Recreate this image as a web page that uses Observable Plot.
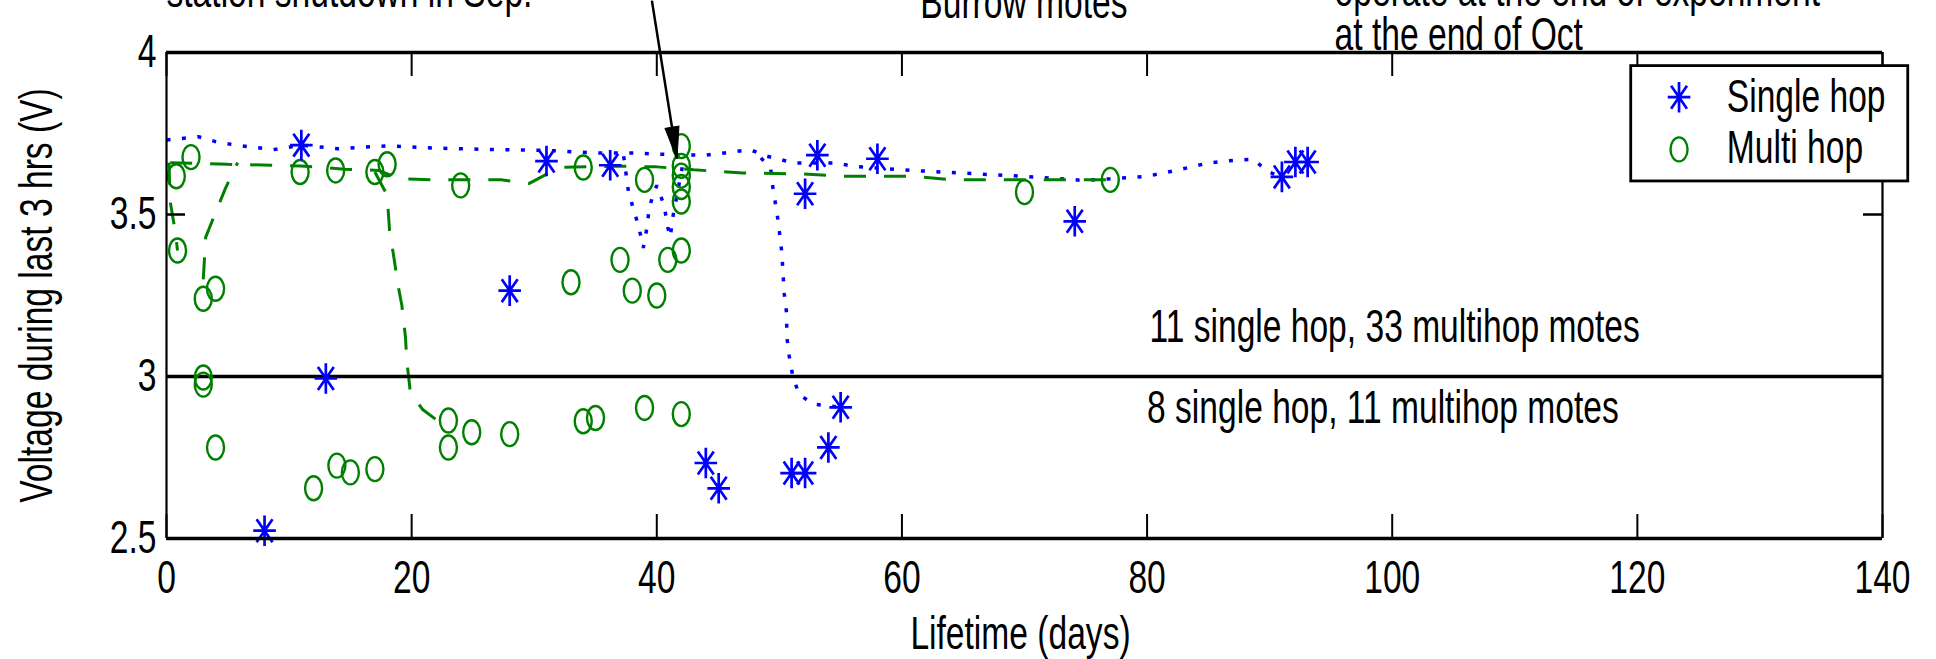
<!DOCTYPE html>
<html><head><meta charset="utf-8">
<script src="https://cdn.jsdelivr.net/npm/d3@7"></script>
<script src="https://cdn.jsdelivr.net/npm/@observablehq/plot@0.6"></script>
<style>html,body{margin:0;padding:0;background:#fff;overflow:hidden;} #chart{width:1936px;height:659px;}</style>
</head><body><div id="chart"></div>
<script>
// ---------- data ----------
const xTicks = [0, 20, 40, 60, 80, 100, 120, 140];
const yTicks = [2.5, 3, 3.5, 4];
const thresholdV = [3];

const singleHopDays  = [11, 31, 36.2, 28, 13, 8, 53.1, 58, 52.1, 44, 45.05, 51, 52.1, 54, 55, 74.1, 91, 92.1, 93.1];
const singleHopVolts = [3.714, 3.665, 3.652, 3.265, 2.994, 2.524, 3.683, 3.672, 3.564, 2.733, 2.655, 2.702, 2.702, 2.781, 2.905, 3.479, 3.616, 3.662, 3.662];

const multiHopDays  = [2.0, 0.8, 0.9, 4.0, 3.0, 3.0, 3.0, 10.9, 13.8, 17.0, 18.0, 24.0, 34.0, 37.0, 33.0, 38.0, 39.0,
                       42.0, 42.0, 42.0, 42.0, 42.0, 40.9, 42.0, 40.0, 70.0, 77.0,
                       4.0, 12.0, 13.9, 15.0, 17.0, 23.0, 23.0, 24.9, 28.0, 34.0, 35.0, 39.0, 42.0];
const multiHopVolts = [3.677, 3.618, 3.389, 3.271, 3.24, 2.997, 2.975, 3.631, 3.636, 3.631, 3.655, 3.59, 3.645, 3.36, 3.291, 3.265, 3.607,
                       3.711, 3.65, 3.62, 3.585, 3.54, 3.36, 3.389, 3.25, 3.569, 3.607,
                       2.781, 2.655, 2.725, 2.704, 2.714, 2.864, 2.781, 2.828, 2.822, 2.862, 2.872, 2.903, 2.884];

// single-hop voltage traces (dotted)
const singleTraceA = [[0,3.73],[2.6,3.74],[4,3.725],[5.5,3.715],[8.7,3.70],[11,3.714],[14,3.703],[18,3.712],[22,3.705],[27,3.70],[31,3.698],[35,3.69],[38,3.69],[41,3.685],[44,3.683],[47.6,3.70],[49,3.68],[51.2,3.659],[54.7,3.659],[56,3.649],[59.9,3.638],[64.8,3.628],[69.9,3.618],[74.9,3.605],[77,3.61],[80,3.618],[82.6,3.638],[85,3.659],[87.5,3.669],[88.7,3.67],[89.8,3.633],[91,3.616]];
const singleTraceB = [[48.5,3.675],[49.3,3.64],[49.5,3.574],[49.8,3.507],[50.0,3.448],[50.2,3.382],[50.3,3.319],[50.4,3.255],[50.6,3.193],[50.6,3.126],[50.8,3.064],[51.1,3.0],[51.6,2.946],[52.7,2.915],[55.0,2.905]];
const singleTraceC = [[37.3,3.68],[37.7,3.567],[38.2,3.505],[38.6,3.45],[38.9,3.397],[39.2,3.46],[39.4,3.525],[40.0,3.59],[40.6,3.528],[40.9,3.46],[41.1,3.43],[41.3,3.49],[41.65,3.56],[42.2,3.67]];

// multi-hop voltage traces (dashed)
const multiTrace1 = [[0.3,3.66],[5,3.655],[11,3.65],[14.5,3.64],[17.3,3.636],[19,3.61],[22,3.607],[27.3,3.607],[29.6,3.596],[31.2,3.628],[32.3,3.646],[37,3.649],[40,3.647],[43,3.638],[47,3.628],[52,3.625],[55,3.618],[61,3.618],[64,3.607],[72,3.607],[77,3.607]];
const multiTrace2 = [[3.0,3.30],[3.2,3.43],[4.1,3.515],[4.8,3.58],[5.8,3.66]];
const multiTrace3 = [[0.2,3.66],[0.3,3.54],[0.7,3.45],[0.9,3.389]];
const multiTrace4 = [[17.0,3.631],[18.0,3.56],[18.2,3.45],[18.5,3.38],[18.9,3.28],[19.2,3.22],[19.5,3.12],[19.6,3.05],[19.9,2.95],[20.9,2.898],[22.1,2.864],[23.0,2.864]];

const seriesNames = ["Single hop", "Multi hop"];
const regionLabels = ["11 single hop, 33 multihop motes", "8 single hop, 11 multihop motes"];
const topNotes = ["station shutdown in Sep.", "Burrow motes", "operate at the end of experiment", "at the end of Oct"];
const arrowStart = [39.6, 4.16];
const arrowEnd = [41.65, 3.672];
const xTitle = "Lifetime (days)";
const yTitle = "Voltage during last 3 hrs (V)";

// ---------- tables ----------
const singleRows = singleHopDays.map((d, i) => ({day: d, v: singleHopVolts[i]}));
const multiRows = multiHopDays.map((d, i) => ({day: d, v: multiHopVolts[i]}));
const toRows = (tr, id) => tr.map(([day, v]) => ({day, v, id}));
const singleLines = [...toRows(singleTraceA, "A"), ...toRows(singleTraceB, "B"), ...toRows(singleTraceC, "C")];
const multiLines = [...toRows(multiTrace1, "1"), ...toRows(multiTrace2, "2"), ...toRows(multiTrace3, "3"), ...toRows(multiTrace4, "4")];

// ---------- symbols ----------
const starSymbol = {
  draw(ctx, size) {
    const r = Math.sqrt(size / Math.PI);
    const h = r * 0.74, dx = r * 0.52, dy = r * 0.75;
    ctx.moveTo(0, -r); ctx.lineTo(0, r);
    ctx.moveTo(-h, 0); ctx.lineTo(h, 0);
    ctx.moveTo(-dx, -dy); ctx.lineTo(dx, dy);
    ctx.moveTo(dx, -dy); ctx.lineTo(-dx, dy);
  }
};
const ellipseSymbol = {
  draw(ctx, size) {
    const b = Math.sqrt(size / Math.PI), a = b * 0.71, k = 0.5523;
    ctx.moveTo(a, 0);
    ctx.bezierCurveTo(a, k * b, k * a, b, 0, b);
    ctx.bezierCurveTo(-k * a, b, -a, k * b, -a, 0);
    ctx.bezierCurveTo(-a, -k * b, -k * a, -b, 0, -b);
    ctx.bezierCurveTo(k * a, -b, a, -k * b, a, 0);
    ctx.closePath();
  }
};
// narrow solid arrowhead, tip at the origin, pointing down
const headSymbol = {
  draw(ctx, size) {
    const r = Math.sqrt(size / Math.PI);
    ctx.moveTo(0, 0); ctx.lineTo(-0.22 * r, -r); ctx.lineTo(0.22 * r, -r); ctx.closePath();
  }
};

const BLUE = "#0000ff", GREEN = "#008000";
const W = 1936, H = 659, ML = 166, MR = 54, MT = 52, MB = 121;
const innerW = W - ML - MR, innerH = H - MT - MB;
const X0 = 0, X1 = 140, Y0 = 2.5, Y1 = 4;
// pixel direction of the annotation arrow, to orient its head
const adx = (arrowEnd[0] - arrowStart[0]) * innerW / (X1 - X0);
const ady = -(arrowEnd[1] - arrowStart[1]) * innerH / (Y1 - Y0);
const headRotate = -Math.atan2(adx, ady) * 180 / Math.PI;

const chart = Plot.plot({
  width: W, height: H,
  marginLeft: ML, marginRight: MR, marginTop: MT, marginBottom: MB,
  x: {domain: [X0, X1]},
  y: {domain: [Y0, Y1]},
  style: {fontFamily: "'Liberation Sans', Arial, Helvetica, sans-serif", fontSize: "46px", color: "black", background: "white", overflow: "visible"},
  marks: [
    // data traces
    Plot.line(singleLines, {x: "day", y: "v", z: "id", stroke: BLUE, strokeWidth: 3.5, strokeDasharray: "4 11.5", strokeLinecap: "butt", strokeLinejoin: "miter", curve: "linear"}),
    Plot.line(multiLines, {x: "day", y: "v", z: "id", stroke: GREEN, strokeWidth: 3, strokeDasharray: "22 18", strokeLinecap: "butt", strokeLinejoin: "miter", curve: "linear"}),
    // threshold
    Plot.ruleY(thresholdV, {stroke: "black", strokeWidth: 3.5}),
    // points
    Plot.dot(multiRows, {x: "day", y: "v", symbol: ellipseSymbol, r: 12, stroke: GREEN, strokeWidth: 2.4, fill: "none"}),
    Plot.dot(singleRows, {x: "day", y: "v", symbol: starSymbol, r: 15.3, stroke: BLUE, strokeWidth: 2.7, fill: "none"}),
    // frame
    Plot.ruleY([Y0, Y1], {stroke: "black", strokeWidth: 3.5}),
    Plot.ruleX([X0, X1], {stroke: "black", strokeWidth: 2.2}),
    // inward ticks
    Plot.ruleX(xTicks, {stroke: "black", strokeWidth: 2, insetTop: innerH - 24}),
    Plot.ruleX(xTicks, {stroke: "black", strokeWidth: 2, insetBottom: innerH - 24}),
    Plot.ruleY(yTicks, {stroke: "black", strokeWidth: 2.5, insetRight: innerW - 19}),
    Plot.ruleY(yTicks, {stroke: "black", strokeWidth: 2.5, insetLeft: innerW - 19}),
    // arrow annotation: shaft + solid head
    Plot.link([0], {x1: () => arrowStart[0], y1: () => arrowStart[1], x2: () => arrowEnd[0], y2: () => arrowEnd[1],
      stroke: "black", strokeWidth: 2.5}),
    Plot.dot([0], {x: () => arrowEnd[0], y: () => arrowEnd[1], symbol: headSymbol, r: 32, fill: "black", stroke: "black", strokeWidth: 1, rotate: headRotate}),
    // annotations
    Plot.text([regionLabels[0]], {x: () => 80.2, y: () => 3.105, text: d => d, textAnchor: "start", lineAnchor: "bottom"}),
    Plot.text([regionLabels[1]], {x: () => 80.0, y: () => 2.858, text: d => d, textAnchor: "start", lineAnchor: "bottom"}),
    Plot.text([topNotes[0]], {x: () => 0, y: () => 4.14, text: d => d, textAnchor: "start", lineAnchor: "bottom"}),
    Plot.text([topNotes[1]], {x: () => 61.5, y: () => 4.106, text: d => d, textAnchor: "start", lineAnchor: "bottom"}),
    Plot.text([topNotes[2]], {x: () => 95.3, y: () => 4.143, text: d => d, textAnchor: "start", lineAnchor: "bottom"}),
    Plot.text([topNotes[3]], {x: () => 95.3, y: () => 4.007, text: d => d, textAnchor: "start", lineAnchor: "bottom"}),
    // legend
    Plot.rect([0], {x1: () => 119.5, x2: () => 142.1, y1: () => 3.602, y2: () => 3.958, fill: "white", stroke: "black", strokeWidth: 2.8}),
    Plot.dot([seriesNames[0]], {x: () => 123.4, y: () => 3.862, symbol: starSymbol, r: 15.3, stroke: BLUE, strokeWidth: 2.7, fill: "none"}),
    Plot.dot([seriesNames[1]], {x: () => 123.4, y: () => 3.701, symbol: ellipseSymbol, r: 12, stroke: GREEN, strokeWidth: 2.4, fill: "none"}),
    Plot.text(seriesNames, {x: () => 127.3, y: (d, i) => (i === 0 ? 3.815 : 3.658), text: d => d, textAnchor: "start", lineAnchor: "bottom"}),
    // axes
    Plot.axisX({anchor: "bottom", ticks: xTicks, tickSize: 0, tickPadding: 22, tickFormat: d => String(d), label: null}),
    Plot.axisY({anchor: "left", ticks: yTicks, tickSize: 0, tickPadding: 10, tickFormat: d => String(d), label: null}),
    Plot.text([xTitle], {frameAnchor: "bottom", dx: -4, dy: 110, lineAnchor: "bottom", text: d => d}),
    Plot.text([yTitle], {frameAnchor: "left", dx: -115, rotate: -90, textAnchor: "middle", lineAnchor: "bottom", text: d => d, ariaLabel: "y-title"})
  ]
});

document.getElementById("chart").appendChild(chart);

// condensed lettering like the original figure
chart.querySelectorAll("text").forEach(t => {
  if (t.closest('[aria-label="y-title"]')) return;
  const L = t.getComputedTextLength();
  if (L > 0) {
    t.setAttribute("textLength", (L * 0.73).toFixed(1));
    t.setAttribute("lengthAdjust", "spacingAndGlyphs");
  }
});
</script>
</body></html>
